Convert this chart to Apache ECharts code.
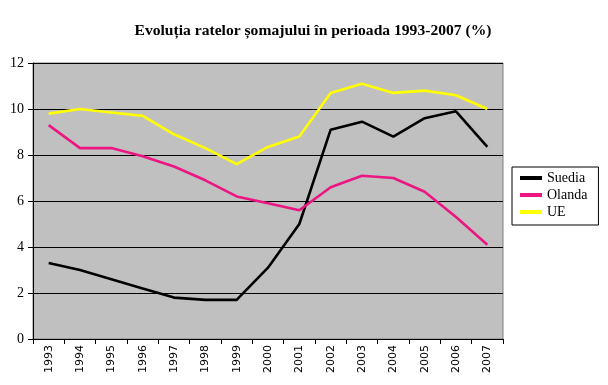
<!DOCTYPE html>
<html><head><meta charset="utf-8">
<script src="https://cdn.jsdelivr.net/npm/echarts@6/dist/echarts.min.js"></script>
<style>html,body{margin:0;padding:0;background:#fff}#c{width:608px;height:385px}</style>
</head><body><div id="c"></div>
<script>
var years = ['1993','1994','1995','1996','1997','1998','1999','2000','2001','2002','2003','2004','2005','2006','2007'];
var suedia = [3.3, 3.0, 2.6, 2.2, 1.8, 1.7, 1.7, 3.1, 5.0, 9.1, 9.45, 8.8, 9.6, 9.9, 8.35];
var olanda = [9.3, 8.3, 8.3, 7.95, 7.5, 6.9, 6.2, 5.9, 5.6, 6.6, 7.1, 7.0, 6.4, 5.3, 4.1];
var ue = [9.8, 10.0, 9.85, 9.7, 8.9, 8.3, 7.6, 8.35, 8.8, 10.7, 11.1, 10.7, 10.8, 10.6, 10.0];
var yTicks = [0, 2, 4, 6, 8, 10, 12];

var chart = echarts.init(document.getElementById('c'));
function mk(name, data, color) {
  return {name: name, type: 'line', data: data, symbol: 'none', smooth: false,
    lineStyle: {color: color, width: 2.6}, itemStyle: {color: color}};
}
chart.setOption({
  animation: false,
  title: {text: 'Evoluția ratelor șomajului în perioada 1993-2007 (%)', left: 308, textAlign: 'center', top: 18,
    textStyle: {fontFamily: 'Liberation Serif', fontWeight: 'bold', fontSize: 15.6, color: '#000'}},
  grid: {left: 33, right: 105, top: 63, bottom: 46, show: true, backgroundColor: '#c0c0c0', borderColor: '#808080', borderWidth: 1},
  legend: {orient: 'vertical', left: 512, top: 167, itemGap: 3, padding: [4, 11, 6, 8],
    borderColor: '#000', borderWidth: 1, icon: 'rect', itemWidth: 22, itemHeight: 4,
    textStyle: {fontFamily: 'Liberation Serif', fontSize: 14, color: '#000', padding: [0, 0, 0, 0]},
    data: ['Suedia', 'Olanda', 'UE']},
  xAxis: {type: 'category', data: years, boundaryGap: true,
    axisLine: {lineStyle: {color: '#000', width: 1}},
    axisTick: {show: true, length: 5, lineStyle: {color: '#000'}},
    axisLabel: {rotate: 90, fontFamily: 'DejaVu Sans', fontSize: 11, color: '#000', margin: 6}},
  yAxis: {type: 'value', min: yTicks[0], max: yTicks[yTicks.length - 1], interval: 2,
    axisLine: {show: true, lineStyle: {color: '#000', width: 1}},
    axisTick: {show: true, length: 5, lineStyle: {color: '#000'}},
    axisLabel: {fontFamily: 'Liberation Serif', fontSize: 14, color: '#000', margin: 9},
    splitLine: {lineStyle: {color: '#000', width: 1}}},
  series: [mk('Suedia', suedia, '#000000'), mk('Olanda', olanda, '#ec1683'), mk('UE', ue, '#ffff00')]
});
</script></body></html>
